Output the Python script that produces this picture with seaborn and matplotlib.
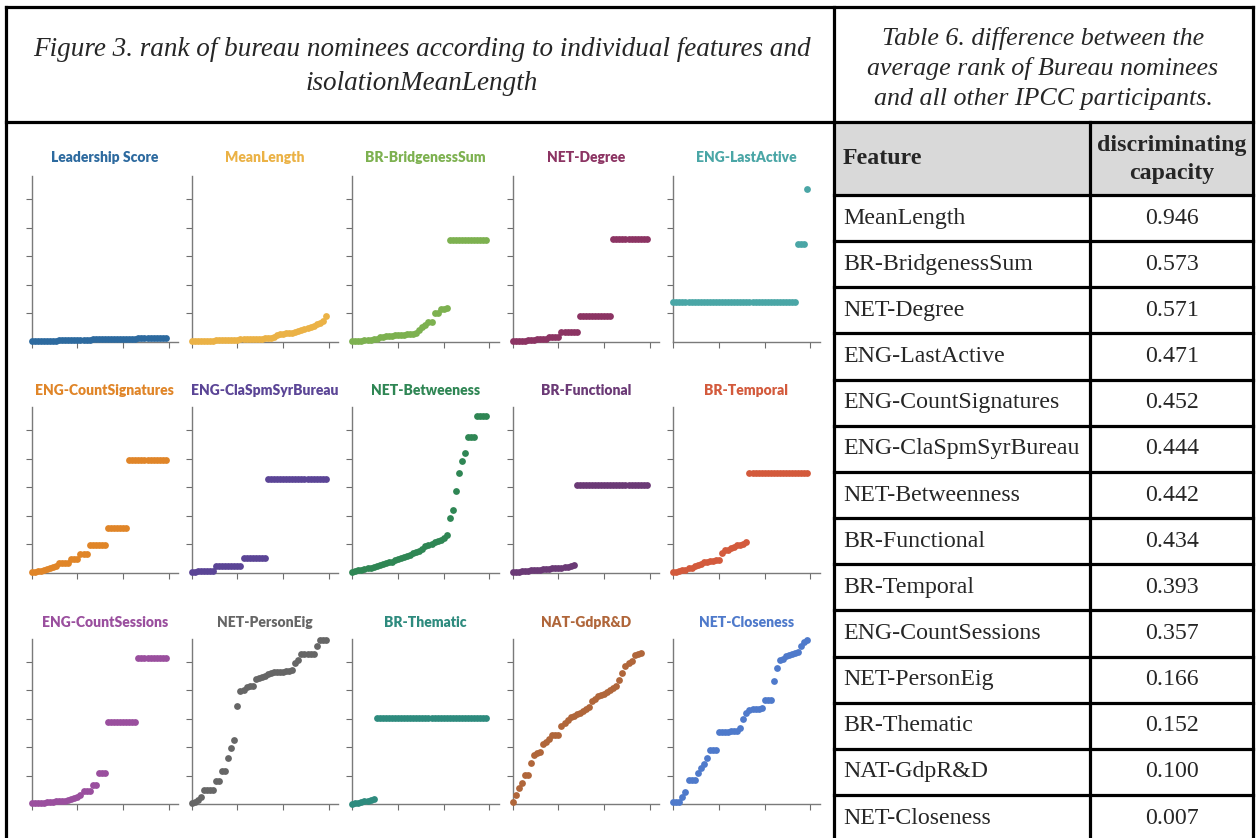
import matplotlib
matplotlib.use("Agg")
import matplotlib.pyplot as plt
import pandas as pd
import seaborn as sns
from matplotlib.patches import Rectangle

sns.set_style("ticks")
plt.rcParams["font.family"] = ["Lato", "DejaVu Sans"]

W, H = 1257, 838

# ---------------- data ----------------
panel_titles = ["Leadership Score", "MeanLength", "BR-BridgenessSum", "NET-Degree", "ENG-LastActive",
                "ENG-CountSignatures", "ENG-ClaSpmSyrBureau", "NET-Betweeness", "BR-Functional", "BR-Temporal",
                "ENG-CountSessions", "NET-PersonEig", "BR-Thematic", "NAT-GdpR&D", "NET-Closeness"]
panel_colors = ["#2d6a9f", "#ebb246", "#7db150", "#8c3463", "#4aa6a6",
                "#e08528", "#5b4596", "#2f8654", "#6b3a76", "#d35a3c",
                "#9a4f9e", "#666666", "#2e8b7e", "#b0663a", "#4f7acb"]

leadership_score = [0.03, 0.03, 0.04, 0.04, 0.04, 0.05, 0.05, 0.05, 0.05, 0.06,
                    0.06, 0.06, 0.07, 0.07, 0.07, 0.07, 0.08, 0.08, 0.08, 0.08,
                    0.09, 0.09, 0.09, 0.10, 0.10, 0.10, 0.10, 0.11, 0.11, 0.11,
                    0.11, 0.12, 0.12, 0.12, 0.12, 0.13, 0.13, 0.13, 0.13, 0.14,
                    0.14, 0.14, 0.14, 0.15, 0.15]
mean_length = [0.03, 0.03, 0.04, 0.04, 0.04, 0.05, 0.05, 0.05, 0.06, 0.06,
               0.06, 0.07, 0.07, 0.08, 0.08, 0.08, 0.09, 0.09, 0.10, 0.10,
               0.11, 0.11, 0.12, 0.12, 0.13, 0.14, 0.15, 0.17, 0.24, 0.28,
               0.29, 0.30, 0.31, 0.32, 0.35, 0.40, 0.43, 0.45, 0.50, 0.53,
               0.57, 0.62, 0.67, 0.73, 0.91]
br_bridgeness_sum = [0.02, 0.03, 0.04, 0.05, 0.06, 0.07, 0.08, 0.09, 0.12, 0.17,
                     0.19, 0.20, 0.21, 0.22, 0.23, 0.24, 0.25, 0.26, 0.27, 0.28,
                     0.29, 0.31, 0.42, 0.52, 0.60, 0.69, 0.70, 1.01, 1.03, 1.15,
                     1.17, 1.19, 3.57, 3.57, 3.57, 3.57, 3.57, 3.57, 3.57, 3.57,
                     3.57, 3.57, 3.57, 3.57, 3.57]
net_degree = [0.02, 0.03, 0.04, 0.05, 0.05, 0.06, 0.07, 0.08, 0.10, 0.10,
              0.11, 0.11, 0.18, 0.18, 0.18, 0.19, 0.36, 0.36, 0.36, 0.36,
              0.36, 0.36, 0.91, 0.91, 0.91, 0.91, 0.91, 0.91, 0.91, 0.91,
              0.91, 0.91, 0.91, 3.61, 3.61, 3.61, 3.61, 3.61, 3.61, 3.61,
              3.61, 3.61, 3.61, 3.61, 3.61]
eng_last_active = [1.39, 1.39, 1.39, 1.39, 1.39, 1.39, 1.39, 1.39, 1.39, 1.39,
                   1.39, 1.39, 1.39, 1.39, 1.39, 1.39, 1.39, 1.39, 1.39, 1.39,
                   1.39, 1.39, 1.39, 1.39, 1.39, 1.39, 1.39, 1.39, 1.39, 1.39,
                   1.39, 1.39, 1.39, 1.39, 1.39, 1.39, 1.39, 1.39, 1.39, 1.39,
                   1.39, 3.45, 3.45, 3.45, 5.36]
eng_count_signatures = [0.03, 0.04, 0.05, 0.07, 0.10, 0.12, 0.15, 0.20, 0.23, 0.33,
                        0.33, 0.33, 0.33, 0.47, 0.47, 0.47, 0.67, 0.67, 0.67, 0.98,
                        0.98, 0.98, 0.98, 0.98, 0.98, 1.58, 1.58, 1.58, 1.58, 1.58,
                        1.58, 1.58, 3.94, 3.94, 3.94, 3.94, 3.94, 3.94, 3.94, 3.94,
                        3.94, 3.94, 3.94, 3.94, 3.94]
eng_cla_spm_syr_bureau = [0.01, 0.02, 0.06, 0.06, 0.06, 0.06, 0.06, 0.06, 0.23, 0.23,
                          0.23, 0.23, 0.23, 0.23, 0.23, 0.23, 0.23, 0.53, 0.53, 0.53,
                          0.53, 0.53, 0.53, 0.53, 0.53, 3.30, 3.30, 3.30, 3.30, 3.30,
                          3.30, 3.30, 3.30, 3.30, 3.30, 3.30, 3.30, 3.30, 3.30, 3.30,
                          3.30, 3.30, 3.30, 3.30, 3.30]
net_betweeness = [0.02, 0.05, 0.08, 0.10, 0.13, 0.16, 0.18, 0.21, 0.24, 0.27,
                  0.30, 0.33, 0.36, 0.39, 0.43, 0.48, 0.52, 0.55, 0.58, 0.63,
                  0.68, 0.72, 0.76, 0.82, 0.92, 0.97, 1.00, 1.06, 1.10, 1.14,
                  1.20, 1.32, 1.90, 2.20, 2.86, 3.50, 3.90, 4.21, 4.74, 4.74,
                  4.74, 5.48, 5.48, 5.48, 5.48]
br_functional = [0.02, 0.03, 0.04, 0.05, 0.06, 0.07, 0.08, 0.09, 0.10, 0.11,
                 0.12, 0.13, 0.14, 0.15, 0.16, 0.17, 0.18, 0.19, 0.21, 0.23,
                 0.26, 3.08, 3.08, 3.08, 3.08, 3.08, 3.08, 3.08, 3.08, 3.08,
                 3.08, 3.08, 3.08, 3.08, 3.08, 3.08, 3.08, 3.08, 3.08, 3.08,
                 3.08, 3.08, 3.08, 3.08, 3.08]
br_temporal = [0.02, 0.04, 0.07, 0.09, 0.11, 0.15, 0.18, 0.22, 0.27, 0.32,
               0.36, 0.37, 0.40, 0.42, 0.43, 0.43, 0.68, 0.78, 0.80, 0.86,
               0.90, 0.97, 0.98, 1.01, 1.06, 3.48, 3.48, 3.48, 3.48, 3.48,
               3.48, 3.48, 3.48, 3.48, 3.48, 3.48, 3.48, 3.48, 3.48, 3.48,
               3.48, 3.48, 3.48, 3.48, 3.48]
eng_count_sessions = [0.03, 0.04, 0.05, 0.06, 0.06, 0.07, 0.08, 0.09, 0.10, 0.11,
                      0.12, 0.13, 0.15, 0.18, 0.21, 0.26, 0.33, 0.45, 0.45, 0.45,
                      0.66, 0.66, 1.08, 1.08, 1.08, 2.87, 2.87, 2.87, 2.87, 2.87,
                      2.87, 2.87, 2.87, 2.87, 2.87, 5.13, 5.13, 5.13, 5.13, 5.13,
                      5.13, 5.13, 5.13, 5.13, 5.13]
net_person_eig = [0.03, 0.09, 0.15, 0.25, 0.50, 0.50, 0.50, 0.50, 0.83, 0.83,
                  1.15, 1.15, 1.62, 1.97, 2.24, 3.43, 3.96, 4.00, 4.10, 4.13,
                  4.15, 4.40, 4.43, 4.45, 4.50, 4.55, 4.60, 4.62, 4.63, 4.64,
                  4.65, 4.66, 4.68, 4.70, 4.95, 5.07, 5.28, 5.28, 5.28, 5.28,
                  5.28, 5.54, 5.77, 5.77, 5.77]
br_thematic = [0.01, 0.03, 0.05, 0.08, 0.10, 0.12, 0.14, 0.18, 3.03, 3.03,
               3.03, 3.03, 3.03, 3.03, 3.03, 3.03, 3.03, 3.03, 3.03, 3.03,
               3.03, 3.03, 3.03, 3.03, 3.03, 3.03, 3.03, 3.03, 3.03, 3.03,
               3.03, 3.03, 3.03, 3.03, 3.03, 3.03, 3.03, 3.03, 3.03, 3.03,
               3.03, 3.03, 3.03, 3.03, 3.03]
nat_gdp_rd = [0.09, 0.33, 0.56, 0.74, 1.03, 1.03, 1.46, 1.73, 1.80, 1.85,
              2.10, 2.20, 2.28, 2.44, 2.44, 2.44, 2.75, 2.85, 2.95, 3.05,
              3.10, 3.15, 3.20, 3.28, 3.35, 3.40, 3.61, 3.70, 3.78, 3.82,
              3.88, 3.95, 4.02, 4.07, 4.15, 4.35, 4.60, 4.85, 4.95, 5.03,
              5.22, 5.28, 5.30]
net_closeness = [0.07, 0.07, 0.07, 0.27, 0.42, 0.85, 0.85, 0.85, 1.09, 1.26,
                 1.40, 1.61, 1.91, 1.91, 1.91, 2.52, 2.53, 2.54, 2.55, 2.56,
                 2.57, 2.58, 2.67, 3.00, 3.20, 3.30, 3.33, 3.34, 3.35, 3.36,
                 3.67, 3.67, 3.67, 4.31, 4.76, 5.07, 5.10, 5.18, 5.22, 5.27,
                 5.30, 5.35, 5.55, 5.70, 5.77]

panel_values = [leadership_score, mean_length, br_bridgeness_sum, net_degree, eng_last_active,
                eng_count_signatures, eng_cla_spm_syr_bureau, net_betweeness, br_functional, br_temporal,
                eng_count_sessions, net_person_eig, br_thematic, nat_gdp_rd, net_closeness]

x_ticks = [0, 15, 30, 45]
y_ticks = [1, 2, 3, 4, 5]

figure_title = ["Figure 3. rank of bureau nominees according to individual features and",
                "isolationMeanLength"]
table_title = ["Table 6. difference between the",
               "average rank of Bureau nominees",
               "and all other IPCC participants."]
table_header = ["Feature", "discriminating", "capacity"]
table_features = ["MeanLength", "BR-BridgenessSum", "NET-Degree", "ENG-LastActive",
                  "ENG-CountSignatures", "ENG-ClaSpmSyrBureau", "NET-Betweenness", "BR-Functional",
                  "BR-Temporal", "ENG-CountSessions", "NET-PersonEig", "BR-Thematic",
                  "NAT-GdpR&D", "NET-Closeness"]
table_capacity = [0.946, 0.573, 0.571, 0.471, 0.452, 0.444, 0.442, 0.434,
                  0.393, 0.357, 0.166, 0.152, 0.100, 0.007]

# ---------------- figure ----------------
fig = plt.figure(figsize=(W / 100, H / 100), dpi=100)
bg = fig.add_axes([0, 0, 1, 1], zorder=0)
bg.set_xlim(0, W)
bg.set_ylim(H, 0)
bg.axis("off")

# table header background
bg.add_patch(Rectangle((834, 122), 1253 - 834, 195 - 122, facecolor="#d9d9d9", lw=0))

LW = 2.3
def hline(y, x0, x1):
    bg.plot([x0, x1], [y, y], color="black", lw=LW, solid_capstyle="projecting")
def vline(x, y0, y1):
    bg.plot([x, x], [y0, y1], color="black", lw=LW, solid_capstyle="projecting")

hline(7, 6, 1253)
hline(122, 6, 1253)
vline(6, 7, 845)
vline(834, 7, 845)
vline(1253, 7, 845)
row_h = (795 - 195) / 13.0
hline(195, 834, 1253)
for k in range(1, 14):
    hline(195 + row_h * k, 834, 1253)
vline(1090, 122, 845)

serif = ["Liberation Serif", "DejaVu Serif"]
for i, line in enumerate(figure_title):
    bg.text(422, 50 + 34 * i, line, ha="center", va="center", family=serif,
            style="italic", fontsize=19.5)
for i, line in enumerate(table_title):
    bg.text(1043, 38 + 30.5 * i, line, ha="center", va="center", family=serif,
            style="italic", fontsize=18.7)

FS = 17.2
bg.text(843, 158, table_header[0], ha="left", va="center", family=serif,
        weight="bold", fontsize=FS)
bg.text(1172, 146, table_header[1], ha="center", va="center", family=serif,
        weight="bold", fontsize=FS)
bg.text(1172, 173, table_header[2], ha="center", va="center", family=serif,
        weight="bold", fontsize=FS)

for k, (feat, val) in enumerate(zip(table_features, table_capacity)):
    yc = 195 + row_h * (k + 0.5)
    bg.text(843, yc, feat, ha="left", va="center", family=serif, fontsize=FS)
    bg.text(1172, yc, f"{val:.3f}", ha="center", va="center", family=serif, fontsize=FS)

# ---------------- small multiples ----------------
col_left = [31.7, 191.7, 352.3, 512.7, 673.3]
row_axis = [342.0, 572.7, 804.3]
title_y = [158, 390, 622]
ax_w, ax_h = 146.3, 165.5

for i, (title, color, vals) in enumerate(zip(panel_titles, panel_colors, panel_values)):
    r, c = divmod(i, 5)
    l = col_left[c]
    b = row_axis[r]
    ax = fig.add_axes([l / W, 1 - b / H, ax_w / W, ax_h / H], zorder=2)
    ax.patch.set_alpha(0)
    df = pd.DataFrame({"nominee": list(range(len(vals))), "rank": vals})
    sns.scatterplot(data=df, x="nominee", y="rank", ax=ax, color=color, s=24,
                    linewidth=0, clip_on=False, zorder=3)
    ax.set_xlim(0, 48)
    ax.set_ylim(0, 5.8)
    ax.set_xticks(x_ticks)
    ax.set_yticks(y_ticks)
    ax.set_xticklabels([])
    ax.set_yticklabels([])
    ax.set_xlabel("")
    ax.set_ylabel("")
    for s in ["top", "right"]:
        ax.spines[s].set_visible(False)
    for s in ["left", "bottom"]:
        ax.spines[s].set_color("#7a7a7a")
        ax.spines[s].set_linewidth(1.0)
    ax.tick_params(length=4.5, width=0.8, color="#6e6e6e", direction="out",
                   bottom=True, left=True)
    bg.text(l + ax_w / 2, title_y[r], title, ha="center", va="center", color=color,
            fontsize=10, weight="heavy", family=["Lato", "DejaVu Sans"])

fig.savefig("out.png", dpi=100)
